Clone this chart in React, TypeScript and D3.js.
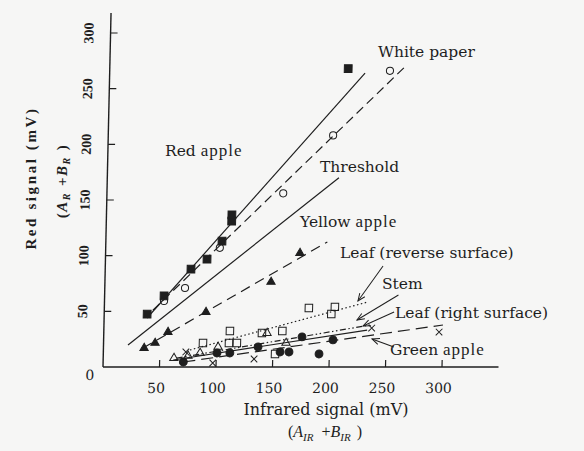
import React from 'react';
import * as d3 from 'd3';

// values (mV)
const redApple = [[38, 47.6], [52.6, 63.8], [75.9, 88], [89.9, 97], [102.8, 113], [111, 131], [111, 136.6], [211, 268]];
const whitePaper = [[52.7, 59.3], [71, 71], [101, 107], [156, 156], [199, 208], [248, 266]];
const yellowApple = [[36, 17], [45.6, 21.6], [56.8, 31.4], [90, 49.4], [147, 76.4], [172, 102.4]];
const leafReverse = [[88, 21.6], [111.6, 32.3], [111, 21.6], [118, 21.6], [140, 30.5], [158, 32.3], [181, 53], [204, 54], [201, 47.6], [152, 11.7]];
const stem = [[62.6, 8], [75, 10], [85.6, 12.6], [101.4, 18], [144.5, 30.5], [161.5, 21.6]];
const leafRight = [[73, 13.5], [97, 3.6], [133.5, 7.2], [237, 35], [296.7, 31.4]];
const greenApple = [[71, 4.5], [100.6, 12.6], [112, 12.6], [136.8, 18], [156.4, 13.5], [164.3, 13.5], [175.5, 27], [190.9, 11.7], [203, 24.3]];

// fitted lines, endpoints
const redAppleLine = [[38, 44], [226, 264]];
const whitePaperLine = [[43, 51], [261, 269.5]];
const thresholdLine = [[21.7, 19.8], [205, 170]];
const yellowAppleLine = [[35, 17], [196, 112.3]];
const leafReverseLine = [[76.6, 15.3], [233, 58.4]];
const stemLine = [[65, 8], [235.5, 37.7]];
const leafRightLine = [[62, 6.3], [233, 33.2]];
const greenAppleLine = [[71, 4.5], [300, 37.7]];

const xTicks = [50, 100, 150, 200, 250, 300];
const yTicks = [50, 100, 150, 200, 250, 300];

const W = 584;
const H = 451;
const ink = '#1e1e1e';

const x = d3.scaleLinear().domain([0, 350]).range([103, 498.5]);
const y = d3.scaleLinear().domain([0, 300]).range([367, 33]);

// the scan is slightly sheared: y axis leans to the right
const shear = `translate(0,${y(0)}) skewX(-1.3) translate(0,${-y(0)})`;

const sym = (type: any, size: number) => d3.symbol().type(type).size(size)() as string;
const sqPath = sym(d3.symbolSquare, 60);
const triPath = sym(d3.symbolTriangle, 30);
const openSqPath = sym(d3.symbolSquare, 56);
const openTriPath = sym(d3.symbolTriangle, 30);
const circPath = sym(d3.symbolCircle, 40);
const dotPath = sym(d3.symbolCircle, 48);
const timesPath = sym(d3.symbolTimes, 30);

const line = d3.line<number[]>().x(d => x(d[0])).y(d => y(d[1]));

const Marks = ({ data, d, filled }: { data: number[][]; d: string; filled: boolean }) => (
  <g>
    {data.map((p, i) => (
      <path
        key={i}
        d={d}
        transform={`translate(${x(p[0])},${y(p[1])})`}
        fill={filled ? ink : 'none'}
        stroke={ink}
        strokeWidth={1}
      />
    ))}
  </g>
);

const Arrow = ({ from, to }: { from: number[]; to: number[] }) => {
  const x1 = x(from[0]), y1 = y(from[1]), x2 = x(to[0]), y2 = y(to[1]);
  const a = Math.atan2(y2 - y1, x2 - x1);
  const L = 8, s = 0.4;
  const h1 = [x2 - L * Math.cos(a - s), y2 - L * Math.sin(a - s)];
  const h2 = [x2 - L * Math.cos(a + s), y2 - L * Math.sin(a + s)];
  return (
    <g stroke={ink} strokeWidth={1} fill="none">
      <line x1={x1} y1={y1} x2={x2} y2={y2} />
      <path d={`M${h1[0]},${h1[1]}L${x2},${y2}L${h2[0]},${h2[1]}`} />
    </g>
  );
};

const App = () => {
  const serif = '"DejaVu Serif", serif';
  const times = '"Liberation Serif", serif';
  return (
    <div style={{ position: 'absolute', left: 0, top: 0 }}>
      <svg width={W} height={H} style={{ display: 'block', background: '#f6f6f5' }}>
        <g transform={shear}>
          {/* axes */}
          <line x1={x(0)} y1={y(0)} x2={x(0)} y2={y(318)} stroke={ink} strokeWidth={1.4} />
          <line x1={x(0)} y1={y(0)} x2={x(350)} y2={y(0)} stroke={ink} strokeWidth={1.4} />
          {yTicks.map(t => (
            <g key={t}>
              <line x1={x(0)} x2={x(0) + 7} y1={y(t)} y2={y(t)} stroke={ink} strokeWidth={1.2} />
              <text
                transform={`translate(${x(0) - 22},${y(t)}) rotate(-90)`}
                textAnchor="middle"
                dy="0.35em"
                fontFamily={times}
                fontWeight="bold"
                fontSize={14}
                fill={ink}
              >
                {t}
              </text>
            </g>
          ))}
          {xTicks.map(t => (
            <g key={t}>
              <line x1={x(t)} x2={x(t)} y1={y(0)} y2={y(0) - 7} stroke={ink} strokeWidth={1.2} />
              <text x={x(t) - 3} y={y(0) + 26} textAnchor="middle" fontFamily={serif} fontSize={14} fill={ink}>
                {t}
              </text>
            </g>
          ))}
          <text x={x(0) - 13} y={y(0) + 13} textAnchor="middle" fontFamily={serif} fontSize={14} fill={ink}>0</text>

          {/* fitted lines */}
          <g fill="none" stroke={ink} strokeWidth={1.2}>
            <path d={line(redAppleLine) as string} />
            <path d={line(whitePaperLine) as string} strokeDasharray="9,5" />
            <path d={line(thresholdLine) as string} />
            <path d={line(yellowAppleLine) as string} strokeDasharray="10,6" />
            <path d={line(leafReverseLine) as string} strokeDasharray="1.5,2.5" />
            <path d={line(stemLine) as string} strokeDasharray="6,2.5,1.5,2.5,1.5,2.5" />
            <path d={line(leafRightLine) as string} />
            <path d={line(greenAppleLine) as string} strokeDasharray="12,6" />
          </g>

          {/* points */}
          <Marks data={redApple} d={sqPath} filled />
          <Marks data={whitePaper} d={circPath} filled={false} />
          <Marks data={yellowApple} d={triPath} filled />
          <Marks data={leafReverse} d={openSqPath} filled={false} />
          <Marks data={stem} d={openTriPath} filled={false} />
          <Marks data={leafRight} d={timesPath} filled={false} />
          <Marks data={greenApple} d={dotPath} filled />

          {/* leader arrows */}
          <Arrow from={[245.8, 90.7]} to={[224.3, 59.3]} />
          <Arrow from={[260, 64.7]} to={[223.8, 42.2]} />
          <Arrow from={[256.5, 49.4]} to={[229.3, 36.8]} />
          <Arrow from={[257, 18]} to={[237.5, 25.2]} />
        </g>

        {/* series labels */}
        <g fontFamily={serif} fontSize={15.5} fill={ink}>
          <text x={378} y={57}>White paper</text>
          <text x={165} y={156}>Red <tspan fontFamily={times} fontSize={17} letterSpacing={1}>apple</tspan></text>
          <text x={320} y={172}>Threshold</text>
          <text x={300} y={227}>Yellow <tspan fontFamily={times} fontSize={17} letterSpacing={1}>apple</tspan></text>
          <text x={340} y={258}>Leaf (reverse surface)</text>
          <text x={382} y={289}>Stem</text>
          <text x={395} y={318}>Leaf (right surface)</text>
          <text x={390} y={355}>Green <tspan fontFamily={times} fontSize={17} letterSpacing={1}>apple</tspan></text>
        </g>

        {/* axis titles */}
        <text x={326} y={415} textAnchor="middle" fontFamily={serif} fontSize={16} fill={ink}>
          Infrared signal (mV)
        </text>
        <text x={325} y={437} textAnchor="middle" fontFamily={times} fontSize={16} fill={ink}>
          (<tspan fontStyle="italic">A</tspan><tspan fontSize={11} fontStyle="italic" dy={4}>IR</tspan>
          <tspan dy={-4} dx={8}>+</tspan><tspan fontStyle="italic">B</tspan>
          <tspan fontSize={11} fontStyle="italic" dy={4}>IR</tspan><tspan dy={-4} dx={6}>)</tspan>
        </text>
        <text
          transform="translate(36,178) rotate(-90)"
          textAnchor="middle"
          fontFamily={times}
          fontWeight="bold"
          fontSize={15}
          letterSpacing={2.6}
          fill={ink}
        >
          Red signal (mV)
        </text>
        <text
          transform="translate(67,181) rotate(-90)"
          textAnchor="middle"
          fontFamily={times}
          fontWeight="bold"
          fontSize={15}
          letterSpacing={1.5}
          fill={ink}
        >
          (<tspan fontStyle="italic">A</tspan><tspan fontSize={10} fontStyle="italic" dy={3}>R</tspan>
          <tspan dy={-3} dx={6}>+</tspan><tspan fontStyle="italic">B</tspan>
          <tspan fontSize={10} fontStyle="italic" dy={3}>R</tspan><tspan dy={-3} dx={6}>)</tspan>
        </text>
      </svg>
    </div>
  );
};

export default App;
